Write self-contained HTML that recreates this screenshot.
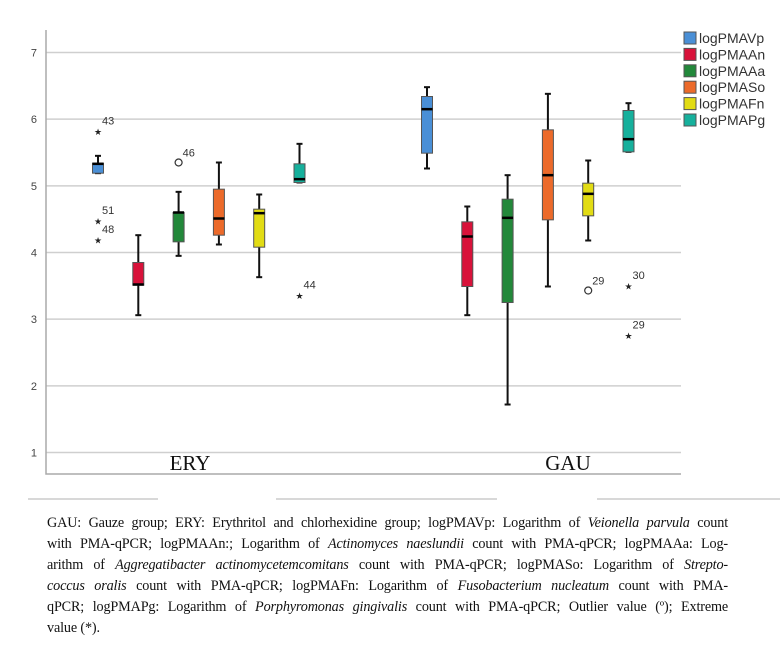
<!DOCTYPE html>
<html><head><meta charset="utf-8"><style>
body{margin:0;background:#fff;width:780px;height:660px;overflow:hidden;position:relative;font-family:"Liberation Sans",sans-serif}
svg{position:absolute;left:0;top:0}
.cap{position:absolute;left:47px;width:681px;font-family:"Liberation Serif",serif;font-size:14.2px;letter-spacing:-0.15px;text-align:justify;text-align-last:justify;white-space:nowrap;color:#111;line-height:21px}
.cap.last{text-align-last:left}
</style></head><body>
<svg id="chart" width="780" height="500"></svg>
<div>
<div class="cap" style="top:513px">GAU: Gauze group; ERY: Erythritol and chlorhexidine group; logPMAVp: Logarithm of <i>Veionella parvula</i> count</div>
<div class="cap" style="top:534px">with PMA-qPCR; logPMAAn:; Logarithm of <i>Actinomyces naeslundii</i> count with PMA-qPCR; logPMAAa: Log-</div>
<div class="cap" style="top:555px">arithm of <i>Aggregatibacter actinomycetemcomitans</i> count with PMA-qPCR; logPMASo: Logarithm of <i>Strepto-</i></div>
<div class="cap" style="top:576px"><i>coccus oralis</i> count with PMA-qPCR; logPMAFn: Logarithm of <i>Fusobacterium nucleatum</i> count with PMA-</div>
<div class="cap" style="top:597px">qPCR; logPMAPg: Logarithm of <i>Porphyromonas gingivalis</i> count with PMA-qPCR; Outlier value (º); Extreme</div>
<div class="cap last" style="top:618px">value (*).</div>
</div>
<script>
const groups=["ERY","GAU"];
const series=["logPMAVp","logPMAAn","logPMAAa","logPMASo","logPMAFn","logPMAPg"];
const colors=["#4a8fd6","#d8123a","#22883a","#ec6a2a","#e2dc14","#16b09c"];
// [min, q1, median, q3, max] per group per series
const eryStats=[[5.19,5.19,5.33,5.34,5.45],[3.06,3.51,3.52,3.85,4.26],[3.95,4.16,4.60,4.60,4.91],[4.12,4.26,4.51,4.95,5.35],[3.63,4.08,4.59,4.65,4.87],[5.05,5.05,5.10,5.33,5.63]];
const gauStats=[[5.26,5.49,6.15,6.34,6.48],[3.06,3.49,4.24,4.46,4.69],[1.72,3.25,4.52,4.80,5.16],[3.49,4.49,5.16,5.84,6.38],[4.18,4.55,4.88,5.04,5.38],[5.51,5.51,5.70,6.13,6.24]];
// outliers: [group, series, value, label, type]
const outliers=[[0,0,5.83,"43","x"],[0,0,4.49,"51","x"],[0,0,4.20,"48","x"],[0,2,5.35,"46","o"],[0,5,3.37,"44","x"],[1,4,3.43,"29","o"],[1,5,3.51,"30","x"],[1,5,2.77,"29","x"]];
const yTicks=[1,2,3,4,5,6,7];

const svg=document.getElementById('chart');
const NS="http://www.w3.org/2000/svg";
function mk(t,a,p){const e=document.createElementNS(NS,t);for(const k in a)e.setAttribute(k,a[k]);(p||svg).appendChild(e);return e;}
const L=46,R=681,B=474;
const y=v=>52.5+(7-v)*66.67;
const groupStart=[98,427],step=40.3;
const x=(g,s)=>groupStart[g]+s*step;

yTicks.forEach(t=>{
  const l=mk('line',{x1:L,x2:R,y1:y(t),y2:y(t),stroke:'#cfcfcf','stroke-width':1.5});
  
  const tx=mk('text',{x:37,y:y(t)+4,'font-size':11,fill:'#444','text-anchor':'end'});
  tx.textContent=t;
  
});
const ax=mk('path',{d:`M${L},30V${B}H${R}`,fill:'none',stroke:'#aaa','stroke-width':1.5});


[eryStats,gauStats].forEach((st,g)=>{
  st.forEach((d,s)=>{
    const cx=x(g,s),w=11;
    const grp=mk('g',{});
    
    
    mk('line',{x1:cx,x2:cx,y1:y(d[4]),y2:y(d[3]),stroke:'#111','stroke-width':2},grp);
    mk('line',{x1:cx,x2:cx,y1:y(d[1]),y2:y(d[0]),stroke:'#111','stroke-width':2},grp);
    mk('line',{x1:cx-3,x2:cx+3,y1:y(d[4]),y2:y(d[4]),stroke:'#111','stroke-width':2},grp);
    mk('line',{x1:cx-3,x2:cx+3,y1:y(d[0]),y2:y(d[0]),stroke:'#111','stroke-width':2},grp);
    mk('rect',{x:cx-w/2,y:y(d[3]),width:w,height:Math.max(y(d[1])-y(d[3]),1),fill:colors[s],stroke:'#555','stroke-width':1},grp);
    mk('line',{x1:cx-w/2,x2:cx+w/2,y1:y(d[2]),y2:y(d[2]),stroke:'#000','stroke-width':2.5},grp);
  });
});
outliers.forEach(o=>{
  const cx=x(o[0],o[1]),cy=y(o[2]);
  const grp=mk('g',{});
  
  
  if(o[4]==='o') mk('circle',{cx:cx,cy:cy,r:3.5,fill:'none',stroke:'#333','stroke-width':1.2},grp);
  else {const t=mk('text',{x:cx,y:cy+4.5,'font-size':12,'text-anchor':'middle',fill:'#222'},grp);t.textContent='★';t.setAttribute('font-size','9');}
  const lb=mk('text',{x:cx+4,y:cy-6,'font-size':11,fill:'#333'},grp);lb.textContent=o[3];
});
groups.forEach((gname,g)=>{
  const t=mk('text',{x:[190,568][g],y:470,'font-size':21,'font-family':'Liberation Serif, serif','text-anchor':'middle',fill:'#111'});
  t.textContent=gname;
  
});
series.forEach((s,i)=>{
  const grp=mk('g',{});
  
  
  const yy=32+i*16.4;
  mk('rect',{x:684,y:yy,width:12,height:12,fill:colors[i],stroke:'#555','stroke-width':1},grp);
  const t=mk('text',{x:699,y:yy+11,'font-size':14,fill:'#333'},grp);t.textContent=s;
});
[[28,158],[276,497],[597,780]].forEach((s,i)=>{
  const l=mk('line',{x1:s[0],x2:s[1],y1:499,y2:499,stroke:'#ccc','stroke-width':1.5});
  
});
</script>
</body></html>
